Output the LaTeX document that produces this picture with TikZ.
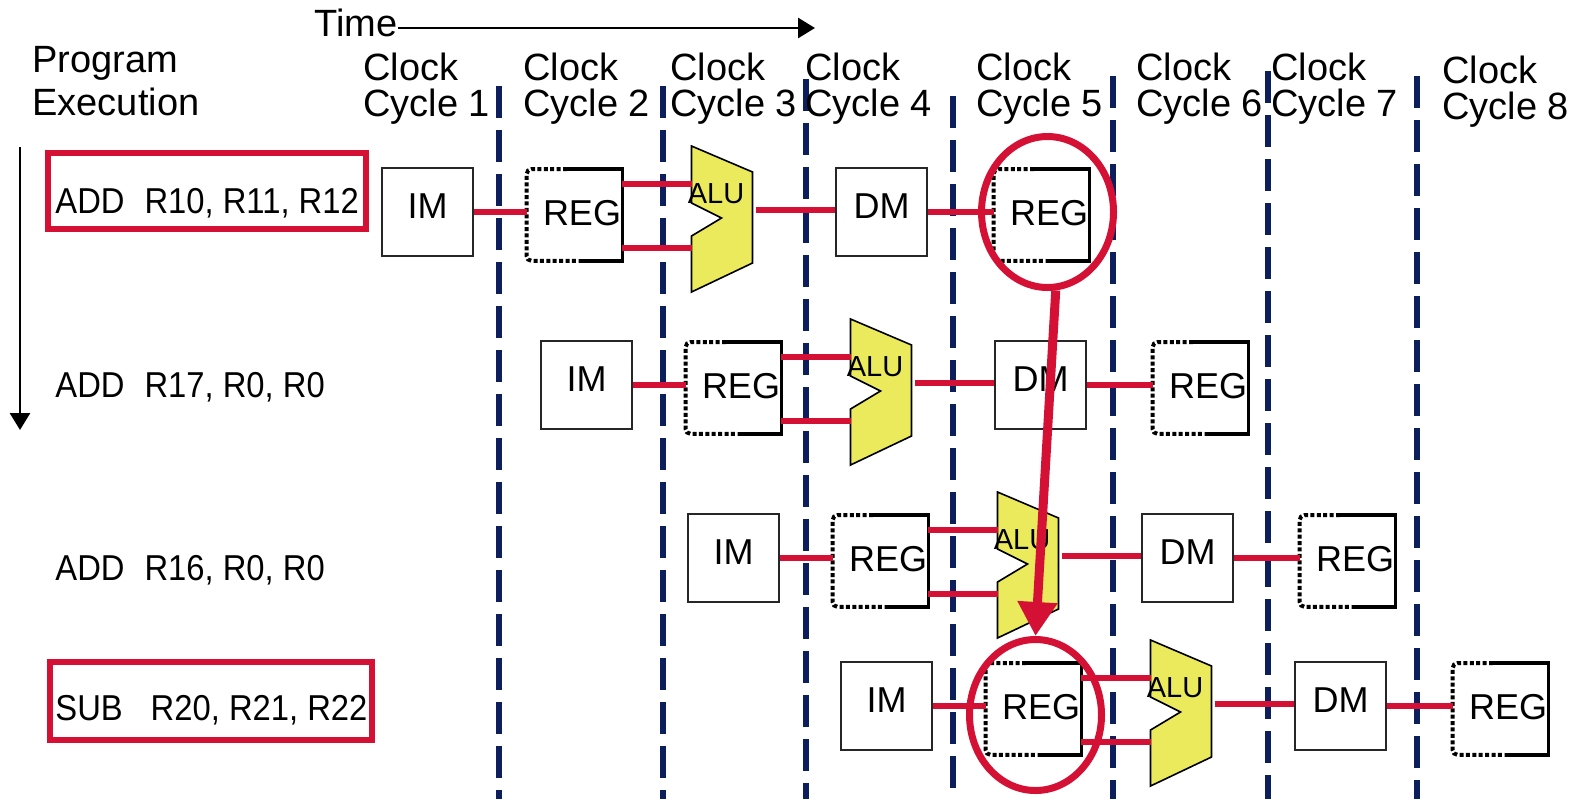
\documentclass[tikz,border=0pt]{standalone}
\usepackage{fontspec}
\setmainfont{Liberation Sans}
\newfontfamily\instrfont{Liberation Sans}[FakeStretch=0.91]
\usetikzlibrary{arrows.meta,shapes.geometric}
\definecolor{wirered}{RGB}{212,16,52}
\definecolor{cyclenavy}{RGB}{12,30,92}
\definecolor{aluyellow}{RGB}{234,234,92}

\begin{document}
\begin{tikzpicture}[x=0.5pt, y=-0.5pt,
    unit/.style={draw=black!85, line width=0.8pt, minimum width=45.5pt, minimum height=44pt,
       inner sep=0pt, text height=13pt, text depth=7pt, font=\fontsize{18}{20}\selectfont},
    regbox/.style={minimum width=47.5pt, minimum height=45.5pt, inner sep=0pt,
       text height=13pt, text depth=3pt, font=\fontsize{18}{20}\selectfont},
    regsolid/.style={line width=1.8pt},
    regdots/.style={line width=2pt, dash pattern=on 2pt off 1.2pt, rounded corners=2.5pt},
    alushape/.style={draw=black, line width=0.8pt, fill=aluyellow},
    alutext/.style={font=\fontsize{14.5}{16}\selectfont, inner sep=0pt},
    wire/.style={draw=wirered, line width=2.9pt},
    cycleline/.style={cyclenavy, line width=2.6pt, dash pattern=on 16pt off 6pt},
    header/.style={align=left, inner sep=0pt, font=\fontsize{19}{17.75}\selectfont},
    instr/.style={inner sep=0pt, font=\instrfont\fontsize{18}{20}\selectfont},
    pick/.style={draw=wirered, line width=3pt, inner sep=0pt},
    ring/.style={ellipse, draw=wirered, line width=3.5pt, minimum width=66pt,
       minimum height=75.5pt, inner sep=0pt},
    hazard/.style={draw=wirered, line width=4.5pt, -{Triangle[width=19pt,length=17pt]}},
    flow/.style={line width=1.4pt, -{Triangle[width=10pt,length=8.5pt]}}]
  \useasboundingbox (0,0) rectangle (1588,799);

  % clock cycle borders
  \foreach \lx/\ly in {499/86, 663/86, 806/79, 953/96, 1113/76, 1268/71, 1417/76}
    \draw[cycleline] (\lx,\ly) -- (\lx,799);

  % headers
  \node[header, anchor=base west] (time) at (314,36) {Time};
  \coordinate (time end) at (815,28);
  \draw[flow] (time.east |- time end) -- (time end);
  \node[header, anchor=north west, font=\fontsize{19}{21.5}\selectfont] (prog) at (32,46) {Program\\Execution};
  \coordinate (exec top) at (20,147);
  \coordinate (exec end) at (20,430);
  \draw[flow] (exec top) -- (exec end);
  \foreach \n/\hx in {1/363, 2/523, 3/670, 4/805, 5/976, 6/1136, 7/1271}
    \node[header, anchor=north west] (cc\n) at (\hx,53) {Clock\\Cycle \n};
  \node[header, anchor=north west] (cc8) at (1442,56) {Clock\\Cycle 8};

  % instructions
  \node[instr, anchor=base west] (ins1) at (55,213) {ADD\hspace{10pt}R10, R11, R12};
  \node[instr, anchor=base west] (ins2) at (55,397) {ADD\hspace{10pt}R17, R0, R0};
  \node[instr, anchor=base west] (ins3) at (55,580) {ADD\hspace{10pt}R16, R0, R0};
  \node[instr, anchor=base west] (ins4) at (55,720) {SUB\hspace{14pt}R20, R21, R22};
  \node[pick, minimum width=159pt, minimum height=38pt] (pick1) at (207,191) {};
  \node[pick, minimum width=161pt, minimum height=39pt] (pick4) at (211,701) {};

  % pipeline stages
  \foreach \r/\x/\y in {1/427.5/212, 2/586.5/385, 3/733.5/558, 4/886.5/706} {
    \node[unit] (im\r) at (\x,\y) {IM};
    \node[regbox] (rg\r) at (\x+147,\y+3) {\hspace*{7.5pt}REG};
    \draw[alushape] (\x+264,\y-66) -- (\x+325,\y-40) -- (\x+325,\y+51) -- (\x+264,\y+80)
       -- (\x+264,\y+24) -- (\x+294,\y+6) -- (\x+264,\y-9) -- cycle;
    \node[alutext] (alu\r) at (\x+288.5,\y-18) {ALU};
    \coordinate (alu\r-a) at (\x+264,\y-28);
    \coordinate (alu\r-b) at (\x+264,\y+36);
    \coordinate (alu\r-q) at (\x+328,\y-2);
    \node[unit] (dm\r) at (\x+454,\y) {DM};
    \node[regbox] (wb\r) at (\x+614,\y+3) {\hspace*{7.5pt}REG};
    \foreach \g in {rg\r, wb\r} {
      \draw[regsolid] ([xshift=-3.75pt]\g.north) -- (\g.north east) -- (\g.south east) -- ([xshift=2pt]\g.south);
      \draw[regdots] ([xshift=-3.75pt]\g.north) -- (\g.north west) -- (\g.south west) -- ([xshift=2pt]\g.south);
    }
    \draw[wire] (im\r.east) -- (rg\r.west |- im\r.east);
    \draw[wire] (rg\r.east |- alu\r-a) -- (alu\r-a);
    \draw[wire] (rg\r.east |- alu\r-b) -- (alu\r-b);
    \draw[wire] (alu\r-q) -- (dm\r.west |- alu\r-q);
    \draw[wire] (dm\r.east) -- (wb\r.west |- dm\r.east);
  }

  % data hazard
  \node[ring] (ring1) at ([xshift=3pt,yshift=1.5pt]wb1) {};
  \node[ring] (ring4) at ([xshift=1pt,yshift=-3pt]rg4) {};
  \draw[hazard] (ring1.-84) -- (ring4.north);
\end{tikzpicture}
\end{document}
